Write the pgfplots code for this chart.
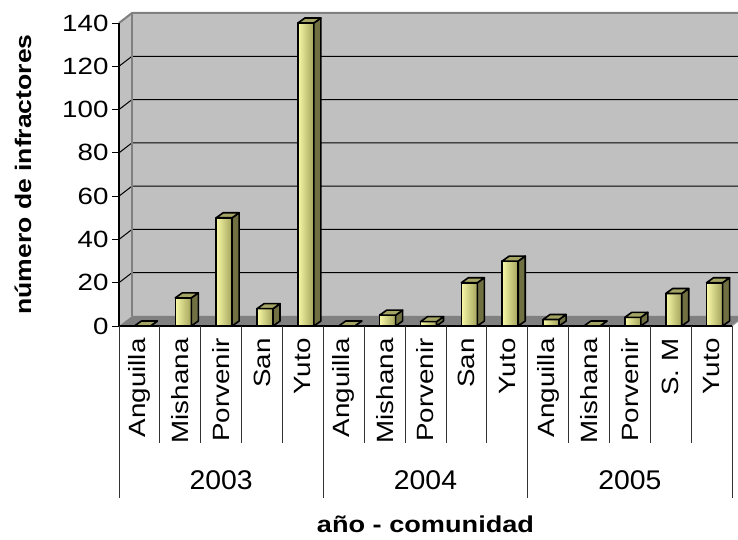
\documentclass[border=0pt]{standalone}
\usepackage{fontspec}
\setmainfont{Liberation Sans}[FakeStretch=1.18]
\newfontfamily\yearfont{Liberation Sans}[FakeStretch=1.05]
\usepackage{pgfplots}
\usepackage{pgfplotstable}
\pgfplotsset{compat=1.18}
\definecolor{wall}{HTML}{C0C0C0}
\definecolor{floorc}{HTML}{808080}
\definecolor{barlight}{HTML}{F8F8A6}
\definecolor{barmid}{HTML}{E2E28C}
\definecolor{bardark}{HTML}{A2A25C}
\definecolor{barside}{HTML}{707042}
\definecolor{bartop}{HTML}{A4A464}
\pgfdeclareplotmark{box3d}{%
  \pgfmathsetmacro\hh{\hval*2.16428}%
  \pgfsetlinewidth{1.6pt}%
  \pgfsetroundjoin
  \pgfsetstrokecolor{black}%
  % side face
  \pgfsetfillcolor{barside}%
  \pgfpathmoveto{\pgfpoint{11pt}{-\hh pt}}%
  \pgfpathlineto{\pgfpoint{18pt}{-\hh pt+5pt}}%
  \pgfpathlineto{\pgfpoint{18pt}{5pt}}%
  \pgfpathlineto{\pgfpoint{11pt}{0pt}}%
  \pgfpathclose
  \pgfusepath{fill,stroke}%
  % top face
  \pgfsetfillcolor{bartop}%
  \pgfpathmoveto{\pgfpoint{-5pt}{0pt}}%
  \pgfpathlineto{\pgfpoint{11pt}{0pt}}%
  \pgfpathlineto{\pgfpoint{18pt}{5pt}}%
  \pgfpathlineto{\pgfpoint{2pt}{5pt}}%
  \pgfpathclose
  \pgfusepath{fill,stroke}%
}
\pgfplotstableread{
x y
0 0
1 13
2 50
3 8
4 140
5 0
6 5
7 2
8 20
9 30
10 3
11 0
12 4
13 15
14 20
}\datatab
\begin{document}
\begin{tikzpicture}[x=1pt,y=1pt]
\useasboundingbox (0,0) rectangle (738,540);
\begin{axis}[
  at={(119pt,214pt)}, anchor=south west,
  scale only axis, width=613pt, height=303pt,
  xmin=-0.5, xmax=14.5, ymin=0, ymax=140,
  clip=false,
  axis line style={draw=none},
  ytick={0,20,...,140},
  ytick pos=left,
  ytick align=outside,
  major tick length=7pt,
  y tick style={black, line width=0.8pt},
  xtick={0,...,14},
  xtick align=inside,
  x tick style={draw=none},
  xticklabels={Anguilla,Mishana,Porvenir,San,Yuto,Anguilla,Mishana,Porvenir,San,Yuto,Anguilla,Mishana,Porvenir,S. M,Yuto},
  xticklabel style={rotate=90, anchor=east, font=\fontsize{23.5}{23.5}\selectfont},
  xticklabel shift=9pt,
  yticklabel style={font=\fontsize{23.5}{23.5}\selectfont},
  /pgf/number format/assume math mode=true,
  front/.style={ybar, bar width=16pt, bar shift=3pt, left color=barlight, middle color=barmid, right color=bardark, draw=black, line width=1.6pt, line join=round},
]
% back wall
\fill[wall] ([shift={(13pt,10pt)}]axis cs:-0.5,0) rectangle ([shift={(13pt,10pt)}]axis cs:14.5,140);
% left wall
\fill[wall] (axis cs:-0.5,0) -- (axis cs:-0.5,140) -- ([shift={(13pt,10pt)}]axis cs:-0.5,140) -- ([shift={(13pt,10pt)}]axis cs:-0.5,0) -- cycle;
% floor
\fill[floorc] (axis cs:-0.5,0) -- (axis cs:14.5,0) -- ([shift={(13pt,10pt)}]axis cs:14.5,0) -- ([shift={(13pt,10pt)}]axis cs:-0.5,0) -- cycle;
% grid lines
\pgfplotsinvokeforeach{20,40,60,80,100,120}{
  \draw[black, line width=1pt] (axis cs:-0.5,#1) -- ([shift={(13pt,10pt)}]axis cs:-0.5,#1) -- ([shift={(13pt,10pt)}]axis cs:14.5,#1);
}
\draw[floorc, line width=2pt] (axis cs:-0.5,140) -- ([shift={(13pt,10pt)}]axis cs:-0.5,140) -- ([shift={(13pt,10pt)}]axis cs:14.5,140);
\draw[floorc, line width=1.5pt] ([shift={(13pt,10pt)}]axis cs:-0.5,0) -- ([shift={(13pt,10pt)}]axis cs:-0.5,140);
\draw[floorc!70, line width=1pt] (axis cs:14.5,0) -- ([shift={(13pt,10pt)}]axis cs:14.5,0);
% bars: top and side faces (3D depth), drawn from the data
\addplot[only marks, mark=box3d, visualization depends on={\thisrow{y} \as \hval}] table[x=x, y=y] {\datatab};
% bars: front faces, one plot per bar so that each has its own shading
\addplot[front] coordinates {(1,13)};
\addplot[front] coordinates {(2,50)};
\addplot[front] coordinates {(3,8)};
\addplot[front] coordinates {(4,140)};
\addplot[front] coordinates {(6,5)};
\addplot[front] coordinates {(7,2)};
\addplot[front] coordinates {(8,20)};
\addplot[front] coordinates {(9,30)};
\addplot[front] coordinates {(10,3)};
\addplot[front] coordinates {(12,4)};
\addplot[front] coordinates {(13,15)};
\addplot[front] coordinates {(14,20)};
% front axis lines
\draw[black, line width=1.2pt] (axis cs:-0.5,140) -- (axis cs:-0.5,0) -- (axis cs:14.5,0);
% category separators
\pgfplotsinvokeforeach{0.5,1.5,2.5,3.5,5.5,6.5,7.5,8.5,10.5,11.5,12.5,13.5}{
  \draw[black!80, line width=0.8pt] (axis cs:#1,0) -- ++(0pt,-117pt);
}
\pgfplotsinvokeforeach{-0.5,4.5,9.5,14.5}{
  \draw[black!80, line width=0.8pt] (axis cs:#1,0) -- ++(0pt,-172pt);
}
% year labels
\node[font=\yearfont\fontsize{27}{27}\selectfont] at ([yshift=-154pt]axis cs:2,0) {2003};
\node[font=\yearfont\fontsize{27}{27}\selectfont] at ([yshift=-154pt]axis cs:7,0) {2004};
\node[font=\yearfont\fontsize{27}{27}\selectfont] at ([yshift=-154pt]axis cs:12,0) {2005};
% axis titles
\node[font=\bfseries\fontsize{23}{23}\selectfont] at ([yshift=-198pt]axis cs:7,0) {año - comunidad};
\node[rotate=90, font=\bfseries\fontsize{22.5}{22.5}\selectfont] at ([xshift=-96pt]axis cs:-0.5,70) {número de infractores};
\end{axis}
\end{tikzpicture}
\end{document}
